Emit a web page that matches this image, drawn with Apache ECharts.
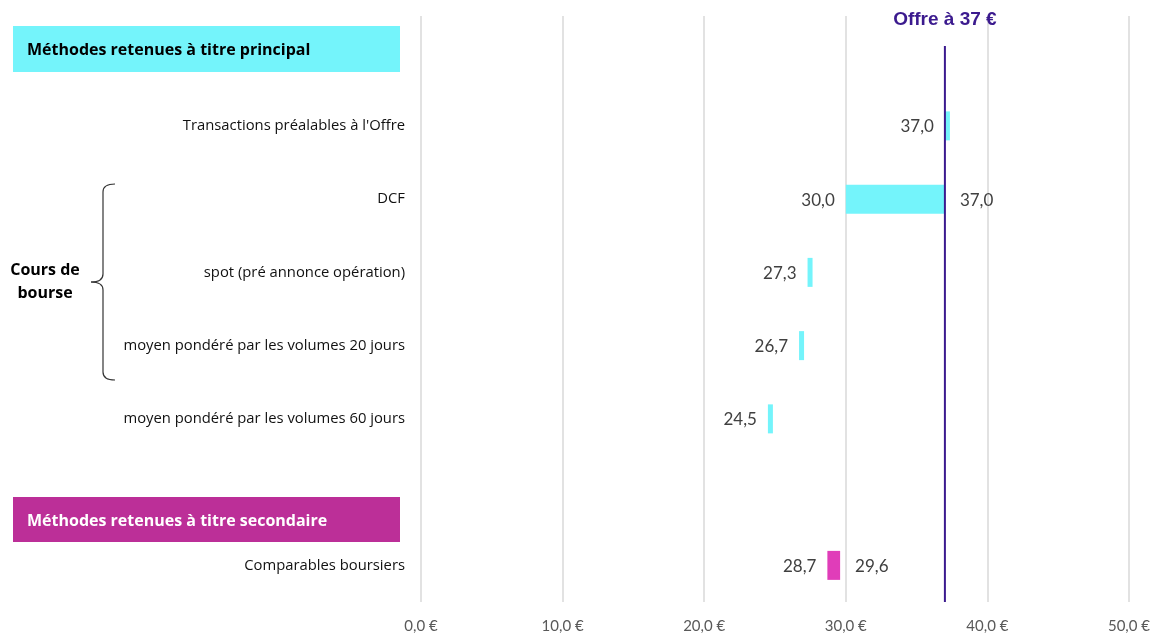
<!DOCTYPE html>
<html><head><meta charset="utf-8">
<script src="https://cdn.jsdelivr.net/npm/echarts@6/dist/echarts.min.js"></script>
<style>html,body{margin:0;padding:0;background:#fff}#c{width:1153px;height:634px}</style>
</head><body><div id="c"></div>
<script>
const categories = ['', "Transactions préalables à l'Offre", 'DCF', 'spot (pré annonce opération)', 'moyen pondéré par les volumes 20 jours', 'moyen pondéré par les volumes 60 jours', '', 'Comparables boursiers'];
const lows  = [null, 37.0, 30.0, 27.3, 26.7, 24.5, null, 28.7];
const highs = [null, 37.0, 37.0, 27.3, 26.7, 24.5, null, 29.6];
const groups = [null, 'principal', 'principal', 'principal', 'principal', 'principal', null, 'secondaire'];
const offer = 37;
const offerLabel = 'Offre à 37 €';
const xTicks = [0, 10, 20, 30, 40, 50];
const headerPrincipal = 'Méthodes retenues à titre principal';
const headerSecondaire = 'Méthodes retenues à titre secondaire';
const braceLabel = 'Cours de\nbourse';

const colors = {principal: '#74F4FB', secondaire: '#E03DB9'};
const fmt = v => v.toFixed(1).replace('.', ',');

const barData = categories.map((c, i) => [i, lows[i], highs[i]]).filter(d => d[1] !== null);

const braceStyle = {stroke: '#333', lineWidth: 1.2, fill: null};

const chart = echarts.init(document.getElementById('c'));
chart.setOption({
  animation: false,
  grid: {left: 421, right: 23, top: 16, bottom: 31.5},
  xAxis: {
    type: 'value', min: xTicks[0], max: xTicks[xTicks.length - 1], interval: 10,
    axisLine: {show: false}, axisTick: {show: false},
    splitLine: {lineStyle: {color: '#d9d9d9', width: 1.5}},
    axisLabel: {formatter: v => fmt(v) + ' €', color: '#595959', fontFamily: 'Lato', fontSize: 15, margin: 17}
  },
  yAxis: {
    type: 'category', data: categories, inverse: true,
    axisLine: {show: false}, axisTick: {show: false}, splitLine: {show: false},
    axisLabel: {color: '#111', fontFamily: '"Open Sans"', fontSize: 14.8, margin: 16, align: 'right'}
  },
  series: [
    {
      type: 'custom',
      data: barData,
      encode: {x: [1, 2], y: 0},
      clip: false,
      renderItem: (params, api) => {
        const idx = api.value(0);
        const lo = api.value(1), hi = api.value(2);
        const p0 = api.coord([lo, idx]);
        const p1 = api.coord([hi, idx]);
        const h = 29;
        const w = Math.max(p1[0] - p0[0], 5);
        const children = [{
          type: 'rect',
          shape: {x: p0[0], y: p0[1] - h / 2, width: w, height: h},
          style: {fill: colors[groups[idx]]}
        }, {
          type: 'text',
          style: {text: fmt(lo), x: p0[0] - 11, y: p0[1] + 1, align: 'right', verticalAlign: 'middle',
                  fill: '#404040', font: '17px Lato'}
        }];
        if (hi > lo) {
          children.push({
            type: 'text',
            style: {text: fmt(hi), x: p0[0] + w + 15, y: p0[1] + 1, align: 'left', verticalAlign: 'middle',
                    fill: '#404040', font: '17px Lato'}
          });
        }
        return {type: 'group', children};
      },
      z: 3
    },
    {
      type: 'custom',
      data: [[offer]],
      encode: {x: 0},
      clip: false,
      renderItem: (params, api) => {
        const cs = params.coordSys;
        const x = api.coord([api.value(0), 0])[0];
        return {type: 'group', children: [
          {type: 'line', shape: {x1: x, y1: cs.y + 30, x2: x, y2: cs.y + cs.height}, style: {stroke: '#3B1A8E', lineWidth: 2}},
          {type: 'text', style: {text: offerLabel, x: x, y: 20, align: 'center', verticalAlign: 'middle',
                                 fill: '#3B1A8E', font: 'bold 19px "Liberation Sans"'}}
        ]};
      },
      z: 4
    }
  ],
  graphic: [
    {type: 'rect', shape: {x: 13, y: 26, width: 387, height: 46}, style: {fill: '#74F4FB'}},
    {type: 'text', style: {text: headerPrincipal, x: 27, y: 50, verticalAlign: 'middle', fill: '#000', font: 'bold 16px "Open Sans"'}},
    {type: 'rect', shape: {x: 13, y: 497, width: 387, height: 45}, style: {fill: '#BC2F98'}},
    {type: 'text', style: {text: headerSecondaire, x: 27, y: 521, verticalAlign: 'middle', fill: '#fff', font: 'bold 16px "Open Sans"'}},
    {type: 'text', style: {text: braceLabel, x: 45, y: 282, align: 'center', verticalAlign: 'middle', fill: '#000', font: 'bold 16px "Open Sans"', lineHeight: 23}},
    {type: 'bezierCurve', shape: {x1: 115, y1: 184, cpx1: 103, cpy1: 184, x2: 103, y2: 192}, style: braceStyle},
    {type: 'line', shape: {x1: 103, y1: 192, x2: 103, y2: 274}, style: braceStyle},
    {type: 'bezierCurve', shape: {x1: 103, y1: 274, cpx1: 103, cpy1: 282, x2: 91, y2: 282}, style: braceStyle},
    {type: 'bezierCurve', shape: {x1: 91, y1: 282, cpx1: 103, cpy1: 282, x2: 103, y2: 290}, style: braceStyle},
    {type: 'line', shape: {x1: 103, y1: 290, x2: 103, y2: 372}, style: braceStyle},
    {type: 'bezierCurve', shape: {x1: 103, y1: 372, cpx1: 103, cpy1: 380, x2: 115, y2: 380}, style: braceStyle}
  ]
});
</script></body></html>
